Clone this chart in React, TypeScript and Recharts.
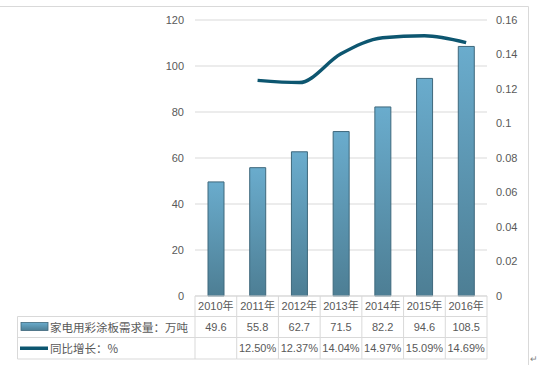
import { ComposedChart, Bar, Line, XAxis, YAxis, CartesianGrid } from 'recharts';

const years = ['2010年', '2011年', '2012年', '2013年', '2014年', '2015年', '2016年'];
const demand = [49.6, 55.8, 62.7, 71.5, 82.2, 94.6, 108.5];
const growth = [null, 0.125, 0.1237, 0.1404, 0.1497, 0.1509, 0.1469];
const growthLabels = ['', '12.50%', '12.37%', '14.04%', '14.97%', '15.09%', '14.69%'];
const leftTicks = [0, 20, 40, 60, 80, 100, 120];
const rightTicks = [0, 0.02, 0.04, 0.06, 0.08, 0.1, 0.12, 0.14, 0.16];

const seriesBar = '家电用彩涂板需求量：万吨';
const seriesLine = '同比增长：%';

const data = years.map((year, i) => ({ year, demand: demand[i], growth: growth[i] }));

const W = 538;
const H = 365;
const PLOT_LEFT = 195;
const PLOT_RIGHT = 487;
const PLOT_TOP = 20;
const PLOT_BOTTOM = 296;
const COL_W = (PLOT_RIGHT - PLOT_LEFT) / years.length;
const ROW1 = 20.5;
const ROW2 = 21;
const ROW3 = 21.5;

const GRID = '#d9d9d9';
const TEXT = '#595959';
const LINE = '#0d5670';
const NUM_FONT = '"Liberation Sans", "Noto Sans CJK SC", sans-serif';
const CJK_FONT = '"Noto Sans CJK SC", sans-serif';

function TableTick(props: any) {
  const { x, y, index } = props;
  const left = x - COL_W / 2;
  const right = x + COL_W / 2;
  const bottom = y + ROW1 + ROW2 + ROW3;
  return (
    <g>
      <line x1={left} y1={y} x2={left} y2={bottom} stroke={GRID} />
      {index === years.length - 1 && <line x1={right} y1={y} x2={right} y2={bottom} stroke={GRID} />}
      <line x1={left} y1={y + ROW1} x2={right} y2={y + ROW1} stroke={GRID} />
      <line x1={left} y1={y + ROW1 + ROW2} x2={right} y2={y + ROW1 + ROW2} stroke={GRID} />
      <line x1={left} y1={bottom} x2={right} y2={bottom} stroke={GRID} />
      <text x={x} y={y + ROW1 / 2} textAnchor="middle" dominantBaseline="central" fontSize={11} fill={TEXT} fontFamily={NUM_FONT}>
        {years[index]}
      </text>
      <text x={x} y={y + ROW1 + ROW2 / 2} textAnchor="middle" dominantBaseline="central" fontSize={11} fill={TEXT} fontFamily={NUM_FONT}>
        {demand[index]}
      </text>
      <text x={x} y={y + ROW1 + ROW2 + ROW3 / 2} textAnchor="middle" dominantBaseline="central" fontSize={11} fill={TEXT} fontFamily={NUM_FONT}>
        {growthLabels[index]}
      </text>
    </g>
  );
}

export default function App() {
  const r2 = PLOT_BOTTOM + ROW1;
  const r3 = r2 + ROW2;
  const r4 = r3 + ROW3;
  return (
    <div style={{ position: 'absolute', left: 0, top: 0, width: W, height: H, background: '#fff', overflow: 'hidden' }}>
      <ComposedChart
        width={W}
        height={H}
        data={data}
        margin={{ top: PLOT_TOP, left: PLOT_LEFT - 40, right: W - PLOT_RIGHT - 40, bottom: H - PLOT_BOTTOM - 63 }}
      >
        <defs>
          <linearGradient id="barFill" x1="0" y1="0" x2="0" y2="1">
            <stop offset="0%" stopColor="#6aaccd" />
            <stop offset="100%" stopColor="#4d7e94" />
          </linearGradient>
        </defs>
        <CartesianGrid yAxisId="left" vertical={false} stroke={GRID} />
        <XAxis
          dataKey="year"
          height={63}
          axisLine={{ stroke: GRID }}
          tickLine={false}
          tickSize={0}
          tickMargin={0}
          interval={0}
          tick={<TableTick />}
        />
        <YAxis
          yAxisId="left"
          width={40}
          domain={[0, 120]}
          ticks={leftTicks}
          axisLine={false}
          tickLine={false}
          tickSize={0}
          tickMargin={11}
          tick={{ fontSize: 11, fill: TEXT, fontFamily: NUM_FONT }}
        />
        <YAxis
          yAxisId="right"
          orientation="right"
          width={40}
          domain={[0, 0.16]}
          ticks={rightTicks}
          axisLine={false}
          tickLine={false}
          tickSize={0}
          tickMargin={9}
          tick={{ fontSize: 11, fill: TEXT, fontFamily: NUM_FONT }}
        />
        <Bar yAxisId="left" dataKey="demand" barSize={16} fill="url(#barFill)" stroke="#3e687c" strokeWidth={1} isAnimationActive={false} />
        <Line
          yAxisId="right"
          dataKey="growth"
          type="monotone"
          stroke={LINE}
          strokeWidth={3.5}
          dot={false}
          activeDot={false}
          connectNulls={false}
          isAnimationActive={false}
        />
      </ComposedChart>
      <svg width={W} height={H} style={{ position: 'absolute', left: 0, top: 0, pointerEvents: 'none' }}>
        <defs>
          <linearGradient id="legFill" x1="0" y1="0" x2="0" y2="1">
            <stop offset="0%" stopColor="#6aaccd" />
            <stop offset="100%" stopColor="#4d7e94" />
          </linearGradient>
        </defs>
        <line x1={0} y1={6.5} x2={528.5} y2={6.5} stroke={GRID} />
        <line x1={528.5} y1={6.5} x2={528.5} y2={H} stroke={GRID} />
        <line x1={17.5} y1={r2} x2={PLOT_LEFT} y2={r2} stroke={GRID} />
        <line x1={17.5} y1={r3} x2={PLOT_LEFT} y2={r3} stroke={GRID} />
        <line x1={17.5} y1={r4} x2={PLOT_LEFT} y2={r4} stroke={GRID} />
        <line x1={17.5} y1={r2} x2={17.5} y2={r4} stroke={GRID} />
        <rect x={21} y={r2 + 6} width={27} height={8} fill="url(#legFill)" stroke="#3e687c" strokeWidth={0.8} />
        <line x1={20} y1={r3 + ROW3 / 2} x2={48} y2={r3 + ROW3 / 2} stroke={LINE} strokeWidth={3.5} />
        <text x={50} y={r2 + ROW2 / 2} dominantBaseline="central" fontSize={11.5} fill={TEXT} fontFamily={CJK_FONT}>
          {seriesBar}
        </text>
        <text x={50} y={r3 + ROW3 / 2} dominantBaseline="central" fontSize={11.5} fill={TEXT} fontFamily={CJK_FONT}>
          {seriesLine}
        </text>
        <text x={530} y={362} fontSize={9} fill="#7f7f7f" fontFamily={CJK_FONT}>
          ↵
        </text>
      </svg>
    </div>
  );
}
